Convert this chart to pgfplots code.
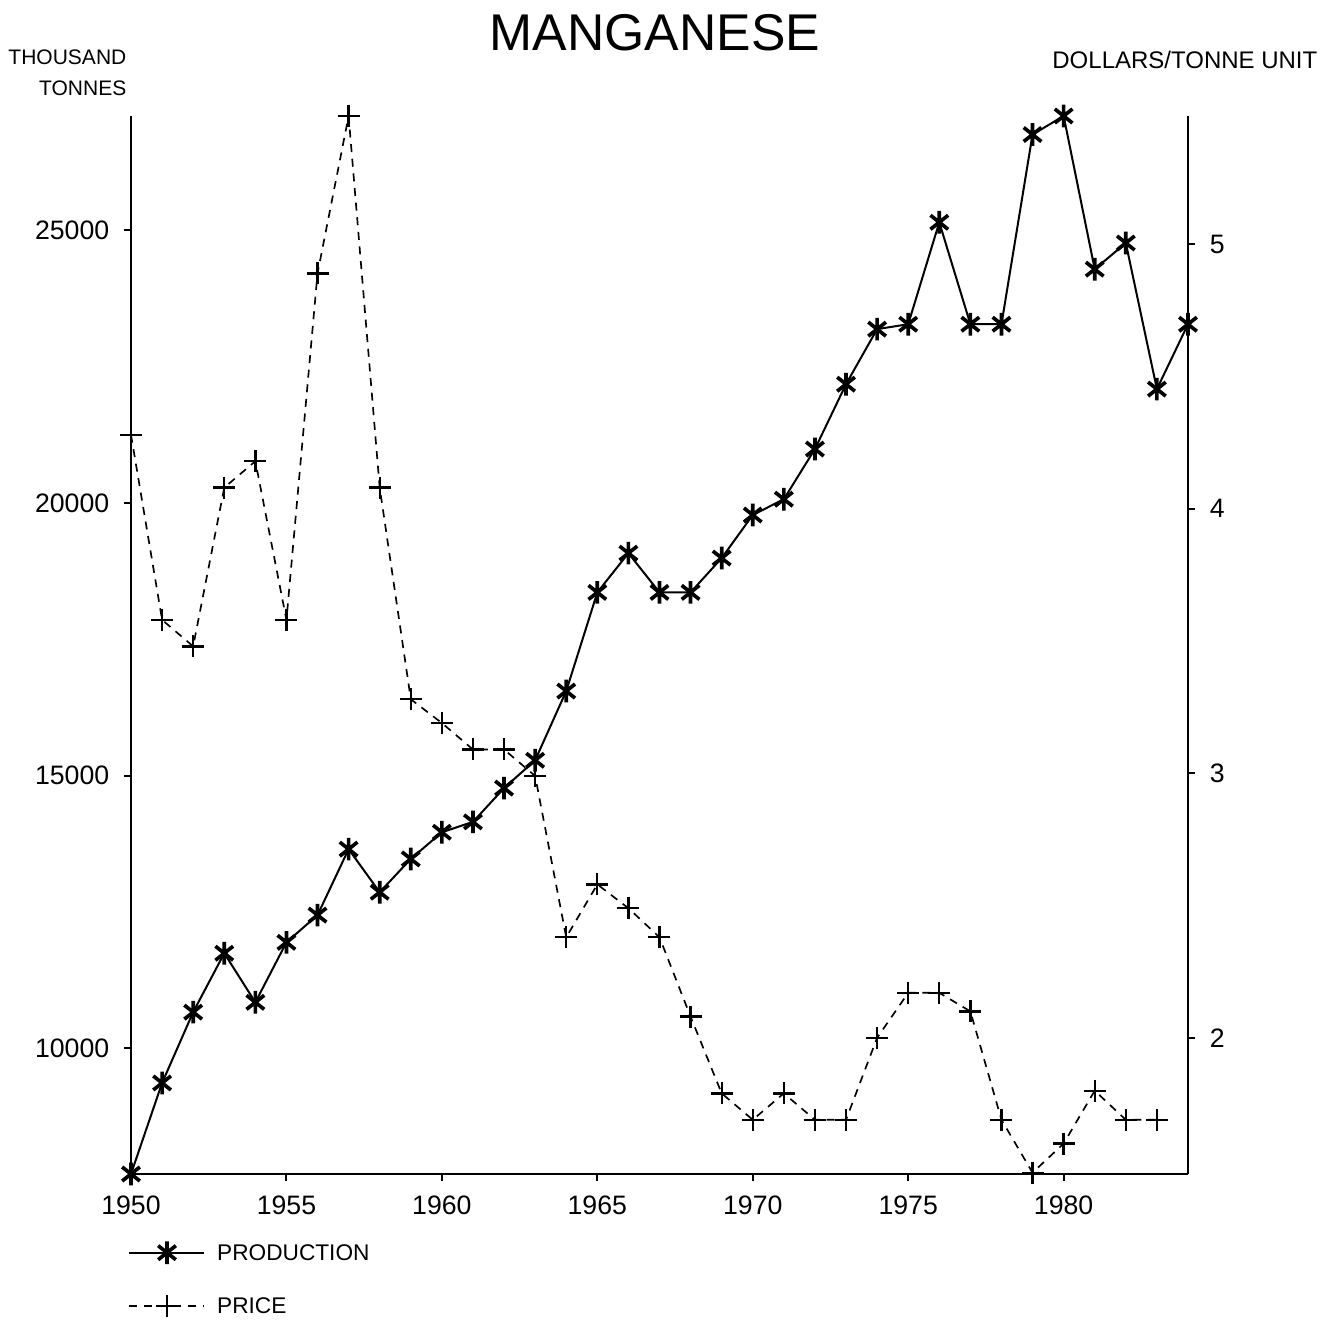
\documentclass[border=0pt]{standalone}
\usepackage{pgfplots}
\pgfplotsset{compat=1.18}
\usepackage{fontspec}
\setmainfont{Liberation Sans}

\pgfdeclareplotmark{pstar}{%
  \pgfpathmoveto{\pgfqpoint{0pt}{\pgfplotmarksize}}%
  \pgfpathlineto{\pgfqpoint{0pt}{-\pgfplotmarksize}}%
  \pgfpathmoveto{\pgfqpoint{0.78\pgfplotmarksize}{0.62\pgfplotmarksize}}%
  \pgfpathlineto{\pgfqpoint{-0.78\pgfplotmarksize}{-0.62\pgfplotmarksize}}%
  \pgfpathmoveto{\pgfqpoint{-0.78\pgfplotmarksize}{0.62\pgfplotmarksize}}%
  \pgfpathlineto{\pgfqpoint{0.78\pgfplotmarksize}{-0.62\pgfplotmarksize}}%
  \pgfusepathqstroke}

\pgfplotstableread{
year prod
1950 7690
1951 9360
1952 10660
1953 11740
1954 10840
1955 11940
1956 12440
1957 13650
1958 12860
1959 13470
1960 13960
1961 14150
1962 14770
1963 15280
1964 16550
1965 18360
1966 19080
1967 18360
1968 18360
1969 18990
1970 19780
1971 20070
1972 20990
1973 22180
1974 23190
1975 23280
1976 25150
1977 23280
1978 23280
1979 26760
1980 27100
1981 24290
1982 24770
1983 22090
1984 23280
}\prodtable

\pgfplotstableread{
year price
1950 4.28
1951 3.58
1952 3.48
1953 4.08
1954 4.18
1955 3.58
1956 4.89
1957 5.485
1958 4.08
1959 3.28
1960 3.19
1961 3.09
1962 3.09
1963 2.99
1964 2.38
1965 2.58
1966 2.49
1967 2.38
1968 2.08
1969 1.79
1970 1.69
1971 1.79
1972 1.69
1973 1.69
1974 2.00
1975 2.17
1976 2.17
1977 2.10
1978 1.69
1979 1.49
1980 1.60
1981 1.80
1982 1.69
1983 1.69
}\pricetable

\pgfplotsset{
  common/.style={
    at={(39.3pt,-352.2pt)}, anchor=south west,
    scale only axis, width=317.1pt, height=317.4pt,
    xmin=1950, xmax=1984,
    clip=false,
    scaled x ticks=false, scaled y ticks=false,
    axis line style={-, line width=0.6pt},
    tick style={line width=0.6pt, black},
    tick align=outside, major tick length=2pt,
    /pgf/number format/assume math mode=true,
    /pgf/number format/1000 sep={},
    ticklabel style={font=\fontsize{8}{9.5}\selectfont},
    legend image code/.code={%
      \draw[mark repeat=2,mark phase=2,##1] plot coordinates {(0pt,0pt) (11.25pt,0pt) (22.5pt,0pt)};},
  },
  prodstyle/.style={black, line width=0.6pt, mark=pstar, mark size=3.4pt, mark options={solid, line width=1.1pt}},
  pricestyle/.style={black, line width=0.5pt, dash pattern=on 2.4pt off 2pt, mark=+, mark size=3.3pt, mark options={solid, line width=0.7pt}},
}

\begin{document}
\begin{tikzpicture}
\path[use as bounding box] (0pt,0pt) rectangle (401.7pt,-396pt);

\begin{axis}[common,
  axis x line*=bottom, axis y line*=left,
  ymin=7690, ymax=27100,
  xtick={1950,1955,...,1980},
  ytick={10000,15000,20000,25000},
  yticklabel style={xshift=-1pt},
  xticklabel style={yshift=-1pt},
]
\addplot[prodstyle] table[x=year,y=prod] {\prodtable};
\end{axis}

\begin{axis}[common,
  axis x line=none, axis y line*=right,
  ymin=1.485, ymax=5.485,
  ytick={2,3,4,5},
  yticklabel style={xshift=1pt},
  legend cell align=left,
  legend style={draw=none, fill=none, at={(axis description cs:-0.003,-0.063)}, anchor=north west,
    row sep=9.2pt, inner sep=0pt,
    nodes={inner sep=1pt, font=\fontsize{6.8}{8}\selectfont, text depth=0pt}},
]
\addlegendimage{prodstyle}
\addlegendentry{\hspace{2.5pt}PRODUCTION}
\addplot[pricestyle] table[x=year,y=price] {\pricetable};
\addlegendentry{\hspace{2.5pt}PRICE}
\end{axis}

\node[font=\fontsize{15.5}{18}\selectfont] at (196.5pt,-9.9pt) {MANGANESE};
\node[anchor=east, align=right, font=\fontsize{6.3}{9.3}\selectfont, inner sep=0pt] at (38.1pt,-21.9pt) {THOUSAND\\TONNES};
\node[anchor=east, font=\fontsize{7.2}{8.5}\selectfont, inner sep=0pt] at (395.4pt,-18pt) {DOLLARS/TONNE UNIT};
\end{tikzpicture}
\end{document}
